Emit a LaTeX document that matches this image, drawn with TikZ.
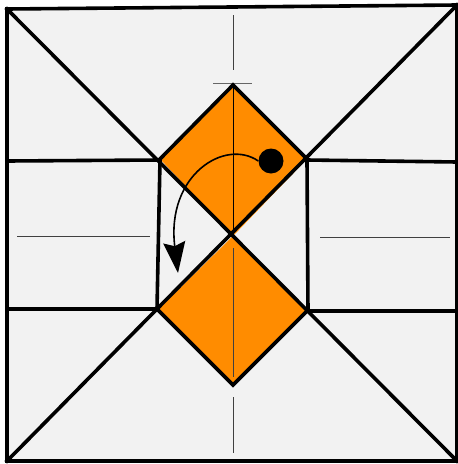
\documentclass[tikz,border=0pt]{standalone}
\usepackage{tikz}
\usetikzlibrary{arrows.meta}

\definecolor{paper}{HTML}{F2F2F2}
\definecolor{flap}{HTML}{FF8C00}

\begin{document}
\begin{tikzpicture}[x=1pt,y=-1pt,
  fold/.style={line width=3.6pt,line join=miter,line cap=rect},
  crease/.style={line width=1pt,black!75},
  flapfill/.style={fill=flap}]
\useasboundingbox (0,0) rectangle (458,464);
% paper
\fill[paper] (7,9) -- (457,5) -- (457,461) -- (7,461) -- cycle;
% creases
\draw[crease] (233,15) -- (233,70);
\draw[crease,black!60] (213,83) -- (252,83);
\draw[crease] (233,397) -- (233,453);
\draw[crease] (17,236) -- (150,236);
\draw[crease] (320,237) -- (450,237);
% flaps
\fill[flapfill] (233,85) -- (307,159) -- (233,236) -- (160,159) -- cycle;
\fill[flapfill] (233,236) -- (308,310) -- (233,385) -- (158,310) -- cycle;
\draw[crease,black] (233,88) -- (233,232);
\draw[crease] (233,248) -- (233,377);
% folds
\draw[fold] (7,9) -- (457,5) -- (457,461) -- (7,461) -- cycle;
\draw[fold] (7,9) -- (457,461);
\draw[fold] (457,5) -- (7,461);
\draw[fold] (160,159) -- (233,85) -- (307,159);
\draw[fold] (158,310) -- (233,385) -- (308,310);
\draw[fold] (7,161) -- (160,160) -- (157,309) -- (7,309);
\draw[fold] (457,162) -- (307,160) -- (308,311) -- (457,311);
% arrow
\node[circle,fill=black,inner sep=0pt,minimum size=25pt] (dot) at (271,161) {};
\coordinate (tip) at (178,273);
\draw[line width=1.6pt,-{Stealth[length=31pt,width=22pt,inset=4pt]}]
  (dot.west) .. controls (225,138) and (166,175) .. (tip);
\end{tikzpicture}
\end{document}
